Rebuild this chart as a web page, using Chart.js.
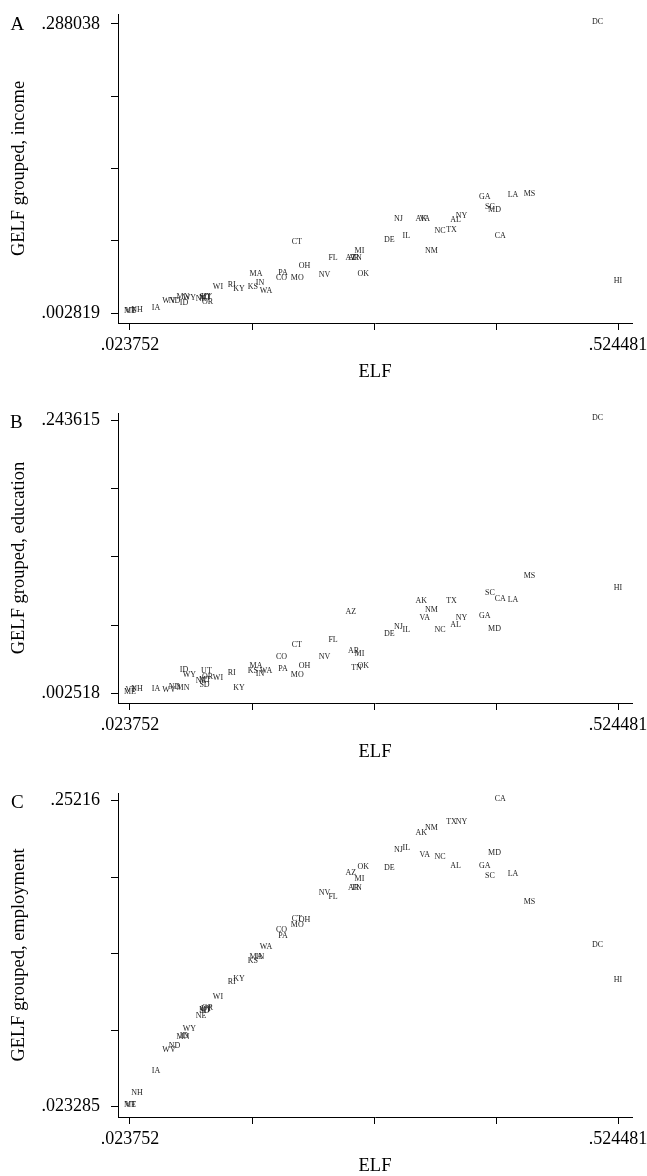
<!DOCTYPE html>
<html>
<head>
<meta charset="utf-8">
<script src="https://cdn.jsdelivr.net/npm/chart.js@4.4.0/dist/chart.umd.min.js"></script>
<style>
body { margin: 0; background: #fff; overflow: hidden; }
canvas { position: absolute; left: 0; }
</style>
</head>
<body>
<canvas id="chartA" width="647" height="390" style="top:0px"></canvas>
<canvas id="chartB" width="647" height="385" style="top:390px"></canvas>
<canvas id="chartC" width="647" height="401" style="top:775px"></canvas>
<script>
const STATES = ['ME', 'VT', 'NH', 'IA', 'WV', 'ND', 'MN', 'ID', 'WY', 'NE', 'SD', 'MT', 'UT', 'OR', 'WI', 'RI', 'KY',
	'KS', 'MA', 'IN', 'WA', 'CO', 'PA', 'MO', 'CT', 'OH', 'NV', 'FL', 'AZ', 'AR', 'TN', 'MI', 'OK', 'DE', 'NJ', 'IL',
	'AK', 'VA', 'NM', 'NC', 'TX', 'AL', 'NY', 'GA', 'SC', 'MD', 'CA', 'LA', 'MS', 'DC', 'HI'];

const ELF = [.023752, .0245, .0309, .0504, .0638, .0694, .0781, .0792, .0846, .0966, .1002, .1007, .1022, .1033, .1140, .1281, .1356,
	.1497, .1530, .1571, .1633, .1792, .1807, .1954, .1950, .2028, .2233, .2321, .2503, .2531, .2562, .2592, .2631, .2898, .2991, .3072,
	.3227, .3261, .3331, .3418, .3536, .3577, .3639, .3878, .3931, .3978, .4037, .4167, .4337, .5035, .524481];

const GELF_INCOME = [.002819, .0029, .0043, .0056, .0132, .0127, .0164, .0109, .0154, .0152, .0171, .0161, .0166, .0122, .0263, .0287, .0247,
	.0263, .0395, .0303, .0224, .0356, .0401, .0352, .0707, .0470, .0388, .0549, .0553, .0556, .0550, .0625, .0395, .0734, .0938, .0766,
	.0938, .0935, .0625, .0823, .0833, .0931, .0971, .1158, .1053, .1027, .0773, .1178, .1180, .288038, .0322];

const GELF_EDUCATION = [.002518, .0041, .0047, .0053, .0041, .0070, .0061, .0218, .0173, .0120, .0083, .0127, .0209, .0156, .0150, .0191, .0061,
	.0209, .0253, .0180, .0209, .0332, .0229, .0173, .0435, .0253, .0332, .0479, .0729, .0385, .0233, .0356, .0253, .0532, .0599, .0570,
	.0820, .0674, .0747, .0568, .0826, .0615, .0674, .0688, .0899, .0577, .0846, .0832, .1047, .243615, .0938];

const GELF_EMPLOYMENT = [.023285, .0234, .0318, .0487, .0640, .0676, .0741, .0744, .0799, .0900, .0935, .0945, .0950, .0960, .1038, .1153, .1171,
	.1308, .1335, .1338, .1415, .1540, .1495, .1577, .1620, .1618, .1819, .1789, .1968, .1852, .1852, .1919, .2013, .2001, .2142, .2157,
	.2263, .2101, .2300, .2083, .2345, .2021, .2345, .2021, .1943, .2118, .25216, .1958, .1751, .1427, .1166];

const ELF_TICKS = [.023752, .14893425, .2741165, .39929875, .524481];
const ELF_TICK_LABELS = ['.023752', '', '', '', '.524481'];
const INCOME_TICKS = [.002819, .07412375, .1454285, .21673325, .288038];
const INCOME_TICK_LABELS = ['.002819', '', '', '', '.288038'];
const EDUCATION_TICKS = [.002518, .06279225, .1230665, .18334075, .243615];
const EDUCATION_TICK_LABELS = ['.002518', '', '', '', '.243615'];
const EMPLOYMENT_TICKS = [.023285, .08050375, .1377225, .19494125, .25216];
const EMPLOYMENT_TICK_LABELS = ['.023285', '', '', '', '.25216'];

const FONT = 'Liberation Serif';
const X_MIN = 0.011439;
const X_MAX = 0.538846;


// state abbreviations drawn centred on each point (marker symbol none)
const stateLabels = {
	id: 'stateLabels',
	afterDatasetsDraw: (chart) => {
		const { ctx, scales: {x, y} } = chart;
		const pts = chart.data.datasets[0].data;
		ctx.save();
		ctx.font = '8px "' + FONT + '"';
		ctx.fillStyle = '#222';
		ctx.textAlign = 'center';
		ctx.textBaseline = 'middle';
		pts.forEach((p, i) => {
			ctx.fillText(STATES[i], x.getPixelForValue(p.x), y.getPixelForValue(p.y) - 2);
		});
		ctx.restore();
	},
};

const panelLetter = {
	id: 'panelLetter',
	afterDraw: (chart, args, opts) => {
		const ctx = chart.ctx;
		ctx.save();
		ctx.font = '19px "' + FONT + '"';
		ctx.fillStyle = '#000';
		ctx.textAlign = 'left';
		ctx.textBaseline = 'alphabetic';
		ctx.fillText(opts.text, opts.x, opts.y);
		ctx.restore();
	},
};


function makePanel(canvasId, yValues, yTicks, yTickLabels, yTitle, opt) {
	const points = ELF.map((v, i) => ({x: v, y: yValues[i]}));
	return new Chart(document.getElementById(canvasId), {
		type: 'scatter',
		data: {
			datasets: [{
				data: points,
				pointRadius: 0,
				pointHoverRadius: 0,
			}],
		},
		options: {
			responsive: false,
			animation: false,
			events: [],
			layout: {
				padding: { top: opt.padTop, right: 15, bottom: 0, left: 0 },
			},
			plugins: {
				legend: { display: false },
				tooltip: { enabled: false },
				panelLetter: { text: opt.letter, x: opt.letterX, y: opt.letterY },
			},
			scales: {
				x: {
					type: 'linear',
					position: 'bottom',
					min: X_MIN,
					max: X_MAX,
					bounds: 'data',
					border: { display: true, color: '#000', width: 1 },
					grid: { drawOnChartArea: false, drawTicks: true, tickLength: 7, color: '#000' },
					ticks: {
						autoSkip: false,
						maxRotation: 0,
						padding: 4,
						color: '#000',
						font: { family: FONT, size: 18 },
						callback: (v, i) => ELF_TICK_LABELS[i],
					},
					afterBuildTicks: (s) => { s.ticks = ELF_TICKS.map(v => ({value: v})); },
					afterFit: (s) => { s.height = opt.xHeight; s.paddingLeft = 0; s.paddingRight = 0; },
					title: {
						display: true,
						text: 'ELF',
						color: '#000',
						font: { family: FONT, size: 18.5, lineHeight: 1 },
						padding: { top: 0, bottom: opt.titlePad },
					},
				},
				y: {
					type: 'linear',
					position: 'left',
					min: opt.yMin,
					max: opt.yMax,
					bounds: 'data',
					border: { display: true, color: '#000', width: 1 },
					grid: { drawOnChartArea: false, drawTicks: true, tickLength: 7, color: '#000' },
					ticks: {
						autoSkip: false,
						padding: 11,
						color: '#000',
						font: { family: FONT, size: 18 },
						callback: (v, i) => yTickLabels[i],
					},
					afterBuildTicks: (s) => { s.ticks = yTicks.map(v => ({value: v})); },
					afterFit: (s) => { s.width = 118; s.paddingTop = 0; s.paddingBottom = 0; },
					title: {
						display: true,
						text: yTitle,
						color: '#000',
						font: { family: FONT, size: 18.5, lineHeight: 1 },
						padding: { top: 9.5, bottom: 0 },
					},
				},
			},
		},
		plugins: [stateLabels, panelLetter],
	});
}


makePanel('chartA', GELF_INCOME, INCOME_TICKS, INCOME_TICK_LABELS, 'GELF grouped, income',
	{ padTop: 14, xHeight: 67, titlePad: 8.75, yMin: -0.007050, yMax: 0.297907, letter: 'A', letterX: 10.5, letterY: 30 });
makePanel('chartB', GELF_EDUCATION, EDUCATION_TICKS, EDUCATION_TICK_LABELS, 'GELF grouped, education',
	{ padTop: 23, xHeight: 72, titlePad: 13.75, yMin: -0.005774, yMax: 0.249790, letter: 'B', letterX: 10, letterY: 38.3 });
makePanel('chartC', GELF_EMPLOYMENT, EMPLOYMENT_TICKS, EMPLOYMENT_TICK_LABELS, 'GELF grouped, employment',
	{ padTop: 18, xHeight: 59, titlePad: 0.45, yMin: 0.015581, yMax: 0.257919, letter: 'C', letterX: 11, letterY: 33 });
</script>
</body>
</html>
